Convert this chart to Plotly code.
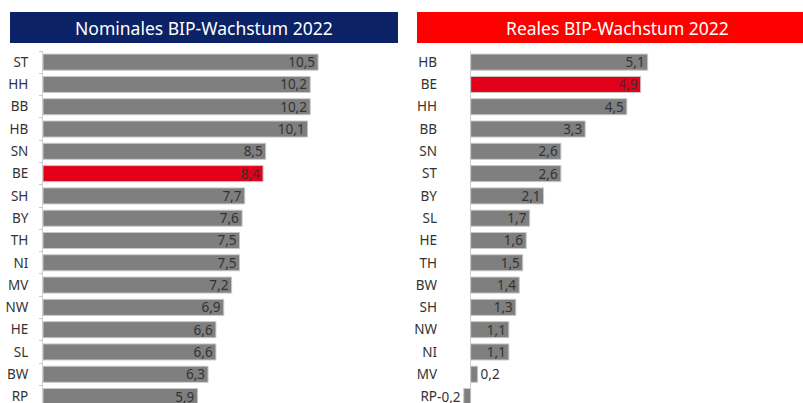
import plotly.graph_objects as go

# Nominales BIP-Wachstum 2022 (%)
nom_laender = ["ST", "HH", "BB", "HB", "SN", "BE", "SH", "BY", "TH", "NI", "MV", "NW", "HE", "SL", "BW", "RP"]
nom_werte = [10.5, 10.2, 10.2, 10.1, 8.5, 8.4, 7.7, 7.6, 7.5, 7.5, 7.2, 6.9, 6.6, 6.6, 6.3, 5.9]

# Reales BIP-Wachstum 2022 (%)
real_laender = ["HB", "BE", "HH", "BB", "SN", "ST", "BY", "SL", "HE", "TH", "BW", "SH", "NW", "NI", "MV", "RP"]
real_werte = [5.1, 4.9, 4.5, 3.3, 2.6, 2.6, 2.1, 1.7, 1.6, 1.5, 1.4, 1.3, 1.1, 1.1, 0.2, -0.2]

W, H = 803, 403
GRAU = "#7f7f7f"
ROT_BE = "#e2001a"
NAVY = "#0b2266"
ROT = "#ff0000"
FONT = "Noto Sans"
TXT = "#333333"


def px_x(v):
    return v / W


def px_y(v):
    return 1 - v / H


def farben(laender):
    return [ROT_BE if l == "BE" else GRAU for l in laender]


fig = go.Figure()

fig.add_trace(go.Bar(
    x=nom_werte, y=nom_laender, orientation="h",
    marker=dict(color=farben(nom_laender), line=dict(color="#c8c8c8", width=1)),
    texttemplate="%{x:.1f}", textposition="inside", insidetextanchor="end",
    textangle=0, constraintext="none",
    insidetextfont=dict(color=TXT, size=13.5, family=FONT),
    xaxis="x", yaxis="y", showlegend=False, cliponaxis=False,
))

fig.add_trace(go.Bar(
    x=real_werte, y=real_laender, orientation="h",
    marker=dict(color=farben(real_laender), line=dict(color="#c8c8c8", width=1)),
    texttemplate="%{x:.1f}", textposition="auto", insidetextanchor="end",
    textangle=0, constraintext="none",
    insidetextfont=dict(color=TXT, size=13.5, family=FONT),
    outsidetextfont=dict(color=TXT, size=13.5, family=FONT),
    xaxis="x2", yaxis="y2", showlegend=False, cliponaxis=False,
))

y_dom = [0, px_y(51)]
y_range = [15.29, -0.5]

fig.update_layout(
    template="none",
    width=W, height=H,
    margin=dict(l=0, r=0, t=0, b=0),
    paper_bgcolor="white", plot_bgcolor="white",
    separators=",.",
    bargap=0.28,
    font=dict(family=FONT, size=13.5, color=TXT),
    xaxis=dict(domain=[px_x(43), px_x(398)], range=[0, 13.55], visible=False, fixedrange=True),
    yaxis=dict(domain=y_dom, range=y_range, anchor="x", showline=True, linecolor="#d0d0d0",
               linewidth=1, ticks="outside", tickson="boundaries", ticklen=3, tickcolor="#c8c8c8",
               ticklabelstandoff=11, showgrid=False, automargin=False,
               tickfont=dict(size=13.5, color=TXT)),
    xaxis2=dict(domain=[px_x(455), 1], range=[-0.452, 9.577], showgrid=False, showticklabels=False,
                ticks="", zeroline=True, zerolinecolor="#d0d0d0", zerolinewidth=1,
                showline=False, anchor="y2"),
    yaxis2=dict(domain=y_dom, range=y_range, anchor="x2", showline=False, ticks="",
                ticklabelstandoff=17, showgrid=False, automargin=False,
                tickfont=dict(size=13.5, color=TXT)),
)

# Titelbalken
fig.add_shape(type="rect", xref="paper", yref="paper",
              x0=px_x(10), x1=px_x(398), y0=px_y(43), y1=px_y(12),
              fillcolor=NAVY, line=dict(width=0))
fig.add_shape(type="rect", xref="paper", yref="paper",
              x0=px_x(417), x1=1.02, y0=px_y(43), y1=px_y(12),
              fillcolor=ROT, line=dict(width=0))
fig.add_annotation(text="Nominales BIP-Wachstum 2022", xref="paper", yref="paper",
                   x=px_x(204), y=px_y(27.5), xanchor="center", yanchor="middle",
                   showarrow=False, font=dict(family=FONT, size=17.5, color="white"))
fig.add_annotation(text="Reales BIP-Wachstum 2022", xref="paper", yref="paper",
                   x=px_x(617), y=px_y(27.5), xanchor="center", yanchor="middle",
                   showarrow=False, font=dict(family=FONT, size=17.5, color="white"))

# drop the default body margin so the figure sits at the window's corner
fig.write_html("out.html", config={"displayModeBar": False},
               post_script="document.body.style.margin='0';")
